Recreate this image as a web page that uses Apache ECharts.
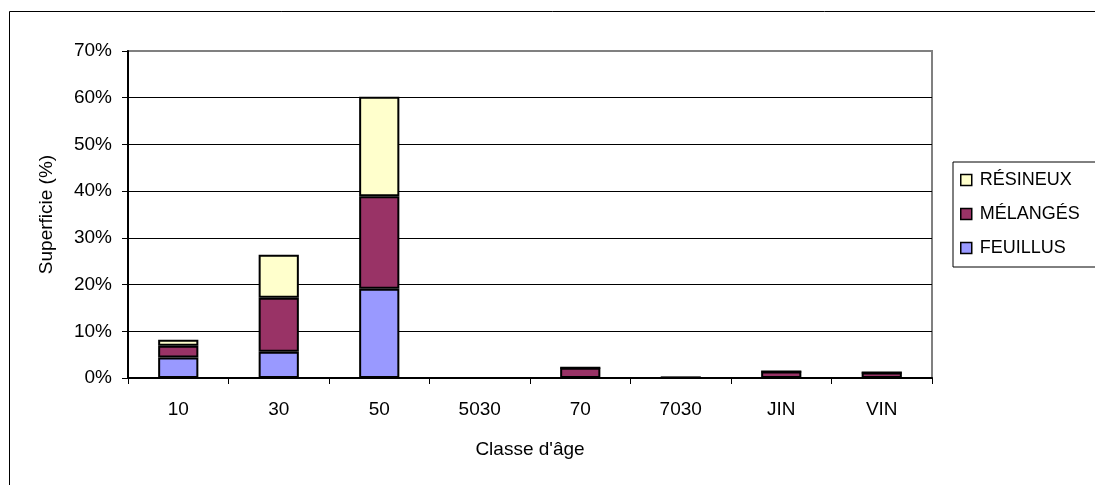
<!DOCTYPE html>
<html>
<head>
<meta charset="utf-8">
<script src="https://cdn.jsdelivr.net/npm/echarts@6/dist/echarts.min.js"></script>
<style>
  html, body { margin: 0; padding: 0; background: #fff; }
  #chart { width: 1095px; height: 485px; }
</style>
</head>
<body>
<div id="chart"></div>
<script>
// Age classes on the x axis
const categories = ['10', '30', '50', '5030', '70', '7030', 'JIN', 'VIN'];

// Share of area (%) per stand type, stacked bottom to top
const feuillus = [4.4, 5.6, 19.1, 0, 0, 0, 0, 0];
const melanges = [2.5, 11.6, 19.8, 0, 2.2, 0.1, 1.4, 1.2];
const resineux = [1.3, 9.2, 21.3, 0, 0, 0, 0, 0];

const seriesNames = ['FEUILLUS', 'MÉLANGÉS', 'RÉSINEUX'];
const legendOrder = ['RÉSINEUX', 'MÉLANGÉS', 'FEUILLUS'];

const FONT = "'Liberation Sans', Arial, sans-serif";
const FS = 19;

const chart = echarts.init(document.getElementById('chart'), null, { renderer: 'canvas' });

function barSeries(name, data, color) {
  return {
    name: name,
    type: 'bar',
    stack: 'total',
    barWidth: '40%',
    data: data,
    itemStyle: { color: color, borderColor: '#000', borderWidth: 2 },
    emphasis: { disabled: true }
  };
}

chart.setOption({
  animation: false,
  backgroundColor: '#fff',
  textStyle: { fontFamily: FONT },
  graphic: [{
    type: 'rect',
    shape: { x: 9.5, y: 11.5, width: 1200, height: 600 },
    style: { fill: 'none', stroke: '#000', lineWidth: 1 },
    silent: true,
    z: -10
  }],
  grid: {
    left: 128, right: 163, top: 51, bottom: 107,
    containLabel: false,
    show: true,
    borderColor: '#808080',
    borderWidth: 2,
    backgroundColor: 'transparent'
  },
  legend: {
    orient: 'vertical',
    left: 953,
    top: 162,
    data: legendOrder,
    icon: 'rect',
    itemWidth: 11,
    itemHeight: 11,
    itemGap: 14,
    padding: [8, 40, 9, 7],
    borderColor: '#000',
    borderWidth: 1,
    selectedMode: false,
    itemStyle: { borderColor: '#000', borderWidth: 1.5 },
    textStyle: { fontFamily: FONT, fontSize: 18, color: '#000', lineHeight: 20, padding: [0, 0, 0, 3] }
  },
  xAxis: {
    type: 'category',
    data: categories,
    name: "Classe d'âge",
    nameLocation: 'middle',
    nameGap: 62,
    nameTextStyle: { fontFamily: FONT, fontSize: FS, color: '#000' },
    axisLine: { lineStyle: { color: '#000', width: 2 } },
    axisTick: { show: true, length: 6, lineStyle: { color: '#000', width: 1 } },
    axisLabel: { fontFamily: FONT, fontSize: FS, color: '#000', margin: 22 },
    splitLine: { show: false }
  },
  yAxis: {
    type: 'value',
    min: 0,
    max: 70,
    interval: 10,
    name: 'Superficie (%)',
    nameLocation: 'middle',
    nameGap: 72,
    nameRotate: 90,
    nameTextStyle: { fontFamily: FONT, fontSize: FS, color: '#000' },
    axisLine: { show: true, lineStyle: { color: '#000', width: 2 } },
    axisTick: { show: true, length: 6, lineStyle: { color: '#000', width: 1 } },
    axisLabel: { fontFamily: FONT, fontSize: FS, color: '#000', margin: 16, formatter: '{value}%' },
    splitLine: { show: true, showMinLine: false, showMaxLine: false, lineStyle: { color: '#000', width: 1 } }
  },
  series: [
    barSeries(seriesNames[0], feuillus, '#9999FF'),
    barSeries(seriesNames[1], melanges, '#993366'),
    barSeries(seriesNames[2], resineux, '#FFFFCC')
  ]
});
</script>
</body>
</html>
